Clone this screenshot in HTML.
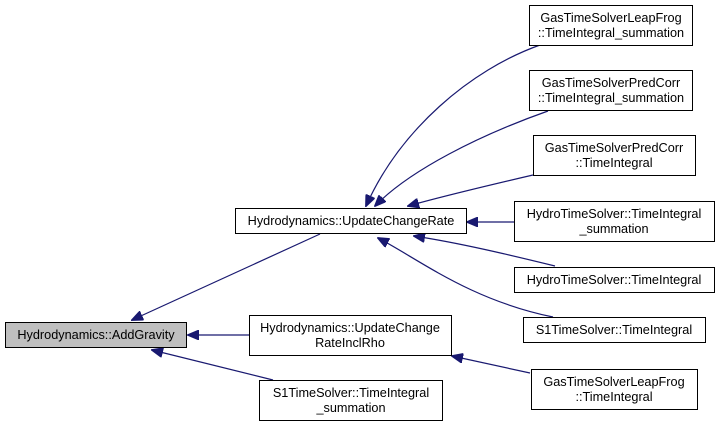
<!DOCTYPE html>
<html><head><style>
body{margin:0;background:#fff;width:720px;height:425px;overflow:hidden}
svg text{font-family:"Liberation Sans",Helvetica,sans-serif;font-size:12.7px;fill:#000}
</style></head><body>
<svg width="720" height="425" viewBox="0 0 720 425" xmlns="http://www.w3.org/2000/svg">
<defs><marker id="a" markerWidth="12" markerHeight="10" refX="11" refY="5" orient="auto" markerUnits="userSpaceOnUse"><path d="M0,0 L12,5 L0,10 Z" fill="#191970" stroke="#191970"/></marker></defs>
<g fill="none" stroke="#191970" stroke-width="1.2" marker-end="url(#a)">
<path d="M540,45 C470,70 400,130 366,206"/>
<path d="M548,111 C480,135 410,170 375,206"/>
<path d="M533,175 C490,185 440,197 408,206"/>
<path d="M514,222 L467,222"/>
<path d="M555,266 C510,255 460,243 414,236"/>
<path d="M553,317 C470,300 420,260 378,238"/>
<path d="M320,234 L132,320"/>
<path d="M249,335 L188,335"/>
<path d="M273,380 L152,350"/>
<path d="M530,373 L452,356"/>
</g>
<g stroke="#000" stroke-width="1" fill="#fff">
<rect x="5.5" y="322.5" width="181" height="25" fill="#bfbfbf"/>
<rect x="235.5" y="208.5" width="231" height="25"/>
<rect x="249.5" y="315.5" width="202" height="40"/>
<rect x="259.5" y="380.5" width="183" height="40"/>
<rect x="529.5" y="5.5" width="163" height="40"/>
<rect x="529.5" y="70.5" width="163" height="40"/>
<rect x="533.5" y="135.5" width="162" height="40"/>
<rect x="514.5" y="201.5" width="200" height="40"/>
<rect x="514.5" y="267.5" width="200" height="25"/>
<rect x="523.5" y="317.5" width="182" height="25"/>
<rect x="531.5" y="369.5" width="166" height="40"/>
</g>
<g text-anchor="middle">
<text x="96" y="339">Hydrodynamics::AddGravity</text>
<text x="351" y="225">Hydrodynamics::UpdateChangeRate</text>
<text x="350" y="332">Hydrodynamics::UpdateChange</text>
<text x="350" y="347">RateInclRho</text>
<text x="351" y="397">S1TimeSolver::TimeIntegral</text>
<text x="351" y="412">_summation</text>
<text x="611" y="22">GasTimeSolverLeapFrog</text>
<text x="611" y="37">::TimeIntegral_summation</text>
<text x="611" y="87">GasTimeSolverPredCorr</text>
<text x="611" y="102">::TimeIntegral_summation</text>
<text x="614" y="152">GasTimeSolverPredCorr</text>
<text x="614" y="167">::TimeIntegral</text>
<text x="614" y="218">HydroTimeSolver::TimeIntegral</text>
<text x="614" y="233">_summation</text>
<text x="614" y="284">HydroTimeSolver::TimeIntegral</text>
<text x="614" y="334">S1TimeSolver::TimeIntegral</text>
<text x="614" y="386">GasTimeSolverLeapFrog</text>
<text x="614" y="401">::TimeIntegral</text>
</g>
</svg>
</body></html>
